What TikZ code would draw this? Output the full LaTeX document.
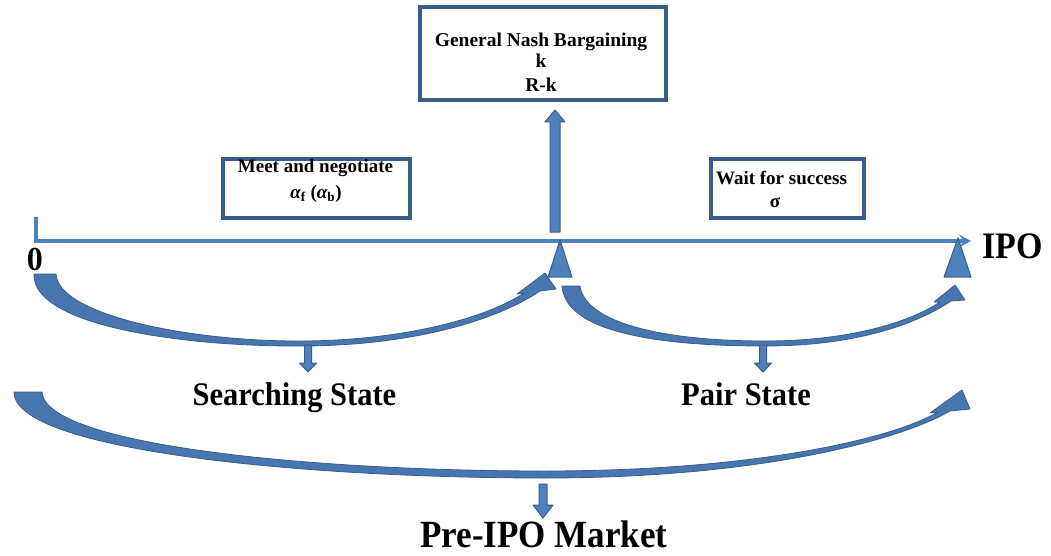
\documentclass[tikz,border=0pt]{standalone}
\usepackage{graphicx}
\usepackage{fontspec}
\setmainfont{Liberation Serif}
\usetikzlibrary{arrows.meta}
\definecolor{barblue}{HTML}{4F81BD}
\definecolor{edgeblue}{HTML}{385D8A}
\definecolor{bandblue}{HTML}{4876B0}
\newcommand{\tallbold}[2]{\scalebox{1}[#1]{#2}}
\begin{document}
\begin{tikzpicture}[x=1pt,y=-1pt,
  infobox/.style={draw=edgeblue, line width=4pt, fill=white, inner sep=0pt},
  boxtext/.style={anchor=base, inner sep=0pt, font=\fontsize{19.5}{22}\selectfont\bfseries},
  statetext/.style={anchor=base, inner sep=0pt, font=\fontsize{30.5}{34}\selectfont\bfseries},
  block/.style={fill=barblue, draw=edgeblue, line width=1pt, line join=round},
  band/.style={fill=bandblue, draw=edgeblue, line width=0.8pt, line join=round},
  timeline/.style={draw=barblue, line width=3.5pt,
    -{Stealth[length=12pt, width=13pt, inset=5pt]}}]
\useasboundingbox (0,0) rectangle (1051,556);

% information boxes
\node[infobox, minimum width=246pt, minimum height=93pt] (nash) at (543,53.5) {};
\node[boxtext] (nashA) at (541,47) {General Nash Bargaining};
\node[boxtext] (nashB) at (541,68) {k};
\node[boxtext] (nashC) at (541,92) {R-k};

\node[infobox, minimum width=187pt, minimum height=59pt] (meet) at (316.5,188.5) {};
\node[boxtext, font=\fontsize{19}{22}\selectfont\bfseries] (meetA) at (315.5,173) {Meet and negotiate};
\node[boxtext, font=\fontsize{19}{22}\selectfont\bfseries] (meetB) at (316,198)
  {{\itshape α}\textsubscript{f} ({\itshape α}\textsubscript{b})};

\node[infobox, minimum width=153pt, minimum height=59pt] (wait) at (787.5,188.5) {};
\node[boxtext, font=\fontsize{19}{22}\selectfont\bfseries] (waitA) at (781.5,185) {Wait for success};
\node[boxtext, font=\fontsize{19}{22}\selectfont\bfseries] (waitB) at (775,207) {σ};

% time axis
\coordinate (axtop) at (36,217);
\coordinate (axstart) at (36,241);
\coordinate (axend) at (971,241);
\draw[timeline] (axtop) -- (axstart) -- (axend);
\node[anchor=base, inner sep=0pt, font=\fontsize{32}{34}\selectfont\bfseries] (zero) at (35,270) {\tallbold{1.05}{0}};
\node[anchor=base west, inner sep=0pt, font=\fontsize{34}{38}\selectfont\bfseries] (ipo) at (982,258) {\tallbold{1.1}{IPO}};

% event markers on the axis
\filldraw[block] (560,240) -- (572,277) -- (548,277) -- cycle;
\filldraw[block] (958,238) -- (971,277) -- (944,277) -- cycle;

% bargaining arrow
\filldraw[block] (550,232) -- (550,122) -- (545,122) -- (555,110) -- (565,122)
  -- (560,122) -- (560,232) -- cycle;

% searching stage
\filldraw[band] (34,274) .. controls (32,325) and (180,347) .. (305,346)
  .. controls (420,345) and (500,318) .. (540,291)
  -- (556,289) -- (545,273) -- (517,294) -- (524,293)
  .. controls (490,316) and (410,340) .. (305,341)
  .. controls (190,342) and (58,315) .. (56,274) -- cycle;
\filldraw[block, shift={(308,345)}] (-3.5,0) -- (-3.5,18) -- (-8.5,18) -- (0,27)
  -- (8.5,18) -- (3.5,18) -- (3.5,0) -- cycle;
\node[statetext] (search) at (294.5,405) {\tallbold{1.08}{Searching State}};

% pair stage
\filldraw[band] (562,286) .. controls (565,330) and (650,346) .. (765,346)
  .. controls (860,346) and (920,322) .. (951,301)
  -- (965,300) -- (955,285) -- (934,302) -- (940,302)
  .. controls (910,322) and (850,341) .. (765,341)
  .. controls (660,341) and (585,322) .. (580,286) -- cycle;
\filldraw[block, shift={(763,345)}] (-3.5,0) -- (-3.5,18) -- (-8.5,18) -- (0,27)
  -- (8.5,18) -- (3.5,18) -- (3.5,0) -- cycle;
\node[statetext] (pair) at (746,405) {\tallbold{1.08}{Pair State}};

% whole pre-IPO market
\filldraw[band] (14,392) .. controls (14,450) and (300,478) .. (545,478)
  .. controls (760,478) and (900,440) .. (950,411)
  -- (970,409) -- (962,390) -- (930,413) -- (938,412)
  .. controls (890,440) and (750,471) .. (545,471)
  .. controls (310,471) and (45,445) .. (42,392) -- cycle;
\filldraw[block, shift={(543,484)}] (-4,0) -- (-4,21) -- (-10,21) -- (0,34)
  -- (10,21) -- (4,21) -- (4,0) -- cycle;
\node[statetext, font=\fontsize{35}{38}\selectfont\bfseries] (market) at (544,547) {\tallbold{1.1}{Pre-IPO Market}};
\end{tikzpicture}
\end{document}
